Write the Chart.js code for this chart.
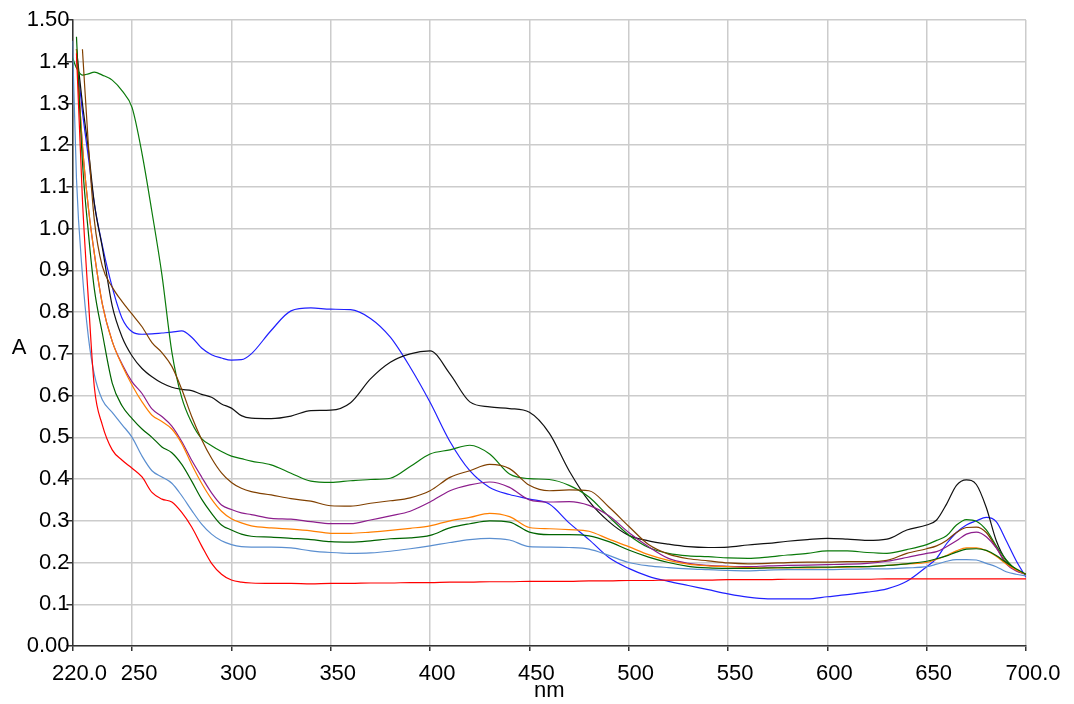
<!DOCTYPE html>
<html>
<head>
<meta charset="utf-8">
<script src="https://cdn.jsdelivr.net/npm/chart.js@4"></script>
<style>
  html, body { margin: 0; padding: 0; background: #fff; }
  #wrap { width: 1074px; height: 704px; }
</style>
</head>
<body>
<div id="wrap"><canvas id="spectra" width="1074" height="704"></canvas></div>
<script>
// wavelength grid (nm)
const wavelength = [220,222,225,228,231,235,240,245,250,255,260,265,270,275,280,285,290,295,300,305,310,
  320,330,340,350,360,370,380,390,400,410,420,430,440,450,460,470,480,490,500,510,520,530,540,550,560,570,580,590,600,610,620,630,640,650,
  655,660,665,670,675,680,685,690,695,700];

const xTicks = [220,250,300,350,400,450,500,550,600,650,700];

// absorbance values, one array per spectrum
const blueA = [null,1.41,1.28,1.17,1.06,0.96,0.86,0.785,0.753,0.747,0.748,0.75,0.752,0.755,0.74,0.714,0.698,0.69,0.685,0.686,0.70,
  0.756,0.803,0.81,0.807,0.806,0.785,0.74,0.668,0.584,0.49,0.42,0.38,0.363,0.352,0.34,0.295,0.255,0.212,0.186,0.167,0.155,0.145,0.135,0.125,0.117,0.113,0.113,0.113,0.118,0.123,0.129,0.137,0.155,0.19,
  0.21,0.245,0.272,0.29,0.3,0.308,0.298,0.253,0.205,0.165];
const blackA = [null,1.43,1.30,1.19,1.06,0.955,0.815,0.74,0.695,0.665,0.645,0.63,0.62,0.615,0.612,0.603,0.596,0.58,0.57,0.552,0.546,
  0.545,0.551,0.564,0.565,0.583,0.64,0.68,0.70,0.707,0.652,0.585,0.573,0.569,0.56,0.51,0.42,0.347,0.298,0.265,0.252,0.244,0.238,0.236,0.237,0.242,0.246,0.251,0.255,0.258,0.256,0.253,0.256,0.278,0.29,
  0.302,0.34,0.385,0.398,0.387,0.332,0.253,0.205,0.182,0.172];
const greenA = [1.41,1.385,1.368,1.371,1.375,1.368,1.356,1.33,1.29,1.18,1.04,0.89,0.705,0.595,0.535,0.497,0.48,0.466,0.455,0.449,0.443,
  0.434,0.414,0.395,0.392,0.396,0.399,0.402,0.43,0.46,0.47,0.481,0.46,0.412,0.401,0.399,0.385,0.357,0.31,0.266,0.236,0.222,0.216,0.214,0.211,0.21,0.213,0.218,0.222,0.228,0.228,0.224,0.222,0.231,0.243,
  0.253,0.264,0.29,0.303,0.299,0.278,0.24,0.207,0.183,0.172];
const brownA = [null,null,1.43,1.2,1.02,0.91,0.86,0.825,0.795,0.765,0.727,0.703,0.67,0.615,0.55,0.495,0.45,0.415,0.392,0.378,0.37,
  0.362,0.353,0.347,0.336,0.335,0.342,0.348,0.355,0.372,0.404,0.42,0.435,0.425,0.385,0.372,0.374,0.372,0.333,0.287,0.243,0.22,0.209,0.204,0.199,0.197,0.198,0.2,0.201,0.201,0.202,0.202,0.205,0.222,0.233,
  0.24,0.253,0.272,0.284,0.285,0.272,0.236,0.2,0.182,0.172];
const purpleA = [null,1.43,1.2,1.05,0.94,0.82,0.73,0.675,0.633,0.605,0.568,0.55,0.527,0.49,0.445,0.405,0.367,0.338,0.327,0.319,0.315,
  0.306,0.304,0.298,0.293,0.293,0.302,0.312,0.323,0.345,0.372,0.386,0.393,0.38,0.35,0.345,0.346,0.337,0.312,0.272,0.238,0.21,0.198,0.193,0.191,0.19,0.192,0.193,0.194,0.195,0.196,0.198,0.203,0.212,0.222,
  0.226,0.238,0.252,0.268,0.273,0.262,0.235,0.197,0.18,0.172];
const orangeA = [null,1.43,1.2,1.05,0.94,0.82,0.73,0.672,0.625,0.585,0.553,0.538,0.52,0.485,0.435,0.39,0.352,0.323,0.305,0.295,0.288,
  0.283,0.28,0.276,0.27,0.27,0.273,0.277,0.282,0.288,0.30,0.308,0.318,0.31,0.284,0.281,0.279,0.275,0.256,0.238,0.219,0.205,0.196,0.192,0.19,0.188,0.187,0.187,0.187,0.188,0.189,0.19,0.193,0.197,0.2,
  0.208,0.217,0.228,0.235,0.235,0.229,0.215,0.197,0.182,0.172];
const darkGreenA = [null,1.46,1.16,0.99,0.855,0.75,0.63,0.575,0.545,0.52,0.5,0.477,0.463,0.435,0.395,0.352,0.318,0.29,0.278,0.268,0.263,
  0.261,0.258,0.255,0.25,0.249,0.252,0.257,0.259,0.265,0.283,0.293,0.3,0.297,0.273,0.267,0.267,0.264,0.25,0.23,0.213,0.2,0.191,0.187,0.186,0.186,0.187,0.188,0.189,0.189,0.19,0.19,0.193,0.197,0.203,
  0.209,0.216,0.225,0.232,0.233,0.229,0.217,0.2,0.185,0.172];
const lightBlueA = [1.45,1.12,0.89,0.74,0.65,0.59,0.56,0.53,0.5,0.455,0.42,0.405,0.39,0.36,0.325,0.292,0.268,0.252,0.243,0.238,0.237,
  0.237,0.235,0.228,0.224,0.222,0.223,0.227,0.233,0.24,0.248,0.255,0.258,0.254,0.238,0.237,0.236,0.232,0.217,0.2,0.192,0.188,0.185,0.183,0.181,0.18,0.182,0.183,0.183,0.183,0.184,0.185,0.185,0.187,0.19,
  0.196,0.203,0.207,0.207,0.206,0.198,0.19,0.178,0.172,0.168];
const redA = [null,1.42,1.07,0.83,0.62,0.53,0.47,0.445,0.426,0.405,0.368,0.352,0.345,0.32,0.285,0.24,0.198,0.172,0.158,0.153,0.151,
  0.15,0.15,0.149,0.15,0.15,0.151,0.151,0.152,0.152,0.153,0.153,0.154,0.154,0.155,0.155,0.155,0.156,0.156,0.157,0.157,0.158,0.158,0.158,0.159,0.159,0.159,0.16,0.16,0.16,0.16,0.16,0.161,0.161,0.161,
  0.161,0.161,0.161,0.161,0.161,0.161,0.161,0.161,0.161,0.161];

const FONT = 'Arial, "Liberation Sans", sans-serif';

function series(values, color) {
    return {
        data: wavelength.map((x, i) => ({ x: x, y: values[i] })),
        borderColor: color,
        borderWidth: 1.2,
        pointRadius: 0,
        fill: false,
        cubicInterpolationMode: 'monotone',
        spanGaps: false
    };
}

// "A" label, drawn upright left of the axis
const yTitle = {
    id: 'yTitle',
    afterDraw(chart) {
        const ctx = chart.ctx;
        ctx.save();
        ctx.font = '22px ' + FONT;
        ctx.fillStyle = '#000';
        ctx.textAlign = 'center';
        ctx.textBaseline = 'middle';
        ctx.fillText('A', 19, 348);
        ctx.restore();
    }
};

const ctx = document.getElementById('spectra').getContext('2d');
new Chart(ctx, {
    type: 'line',
    data: {
        datasets: [
            series(redA, '#ff0000'),
            series(lightBlueA, '#5b8fd0'),
            series(darkGreenA, '#006400'),
            series(orangeA, '#ff7f00'),
            series(purpleA, '#8c1d8c'),
            series(brownA, '#804000'),
            series(greenA, '#0a7a0a'),
            series(blackA, '#111111'),
            series(blueA, '#2020ff')
        ]
    },
    options: {
        responsive: false,
        animation: false,
        layout: { padding: { left: 0, top: 20, right: 48, bottom: 0 } },
        plugins: {
            legend: { display: false },
            tooltip: { enabled: false }
        },
        scales: {
            x: {
                type: 'linear',
                min: 220,
                max: 700,
                afterBuildTicks: axis => { axis.ticks = xTicks.map(v => ({ value: v })); },
                afterFit: scale => { scale.height = 58; },
                ticks: {
                    autoSkip: false,
                    maxRotation: 0,
                    labelOffset: 7,
                    padding: 10,
                    color: '#000',
                    font: { family: FONT, size: 22 },
                    callback: v => (v === 220 ? '220.0' : v === 700 ? '700.0' : String(v))
                },
                grid: { color: '#cccccc', lineWidth: 1.5, tickLength: 5, tickColor: '#333' },
                border: { color: '#333', width: 1.5 },
                title: { display: true, text: 'nm', color: '#000', font: { family: FONT, size: 22 }, padding: 0 }
            },
            y: {
                min: 0,
                max: 1.5,
                afterFit: scale => { scale.width = 72.5; },
                ticks: {
                    stepSize: 0.1,
                    padding: -3,
                    color: '#000',
                    font: { family: FONT, size: 22 },
                    callback: v => {
                        if (Math.abs(v) < 1e-9) return '0.00';
                        if (Math.abs(v - 1.5) < 1e-9) return '1.50';
                        return v.toFixed(1);
                    }
                },
                grid: { color: '#cccccc', lineWidth: 1.5, tickLength: 6, tickColor: '#333' },
                border: { color: '#333', width: 1.5 }
            }
        }
    },
    plugins: [yTitle]
});
</script>
</body>
</html>
